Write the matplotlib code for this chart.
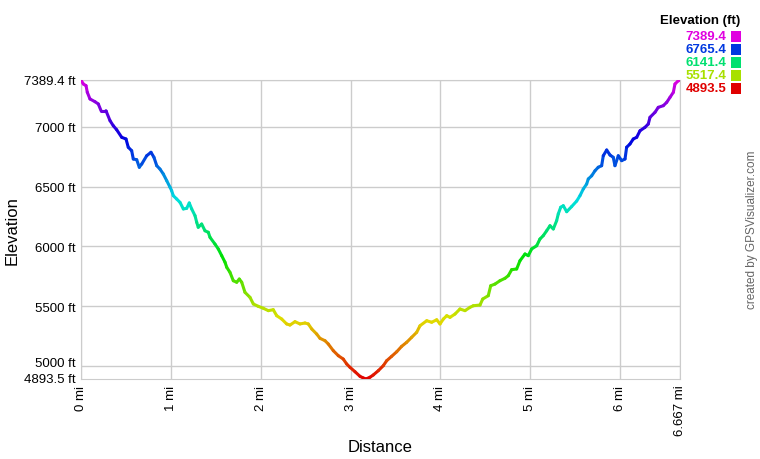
import numpy as np
import matplotlib
matplotlib.use("Agg")
import matplotlib.pyplot as plt
from matplotlib.collections import LineCollection
from matplotlib.colors import hsv_to_rgb

plt.rcParams['font.family'] = ['Liberation Sans', 'DejaVu Sans']

# distance along the track (mi) and elevation (ft)
dist = [0.000, 0.026, 0.056, 0.070, 0.100, 0.156, 0.193, 0.223, 0.278, 0.323,
        0.359, 0.397, 0.453, 0.501, 0.526, 0.564, 0.582, 0.620, 0.649, 0.676,
        0.731, 0.779, 0.812, 0.843, 0.879, 0.916, 0.954, 0.991, 1.009, 1.027,
        1.065, 1.102, 1.139, 1.176, 1.205, 1.232, 1.269, 1.288, 1.305, 1.343,
        1.380, 1.417, 1.436, 1.491, 1.528, 1.566, 1.603, 1.622, 1.658, 1.695,
        1.733, 1.762, 1.789, 1.825, 1.881, 1.918, 1.973, 2.029, 2.085, 2.140,
        2.178, 2.234, 2.289, 2.326, 2.382, 2.437, 2.493, 2.530, 2.568, 2.623,
        2.660, 2.716, 2.752, 2.808, 2.864, 2.919, 2.957, 2.994, 3.050, 3.105,
        3.142, 3.172, 3.216, 3.253, 3.309, 3.365, 3.402, 3.458, 3.514, 3.569,
        3.625, 3.681, 3.736, 3.773, 3.848, 3.903, 3.959, 3.996, 4.033, 4.071,
        4.107, 4.163, 4.218, 4.274, 4.330, 4.366, 4.441, 4.471, 4.533, 4.560,
        4.608, 4.663, 4.719, 4.756, 4.793, 4.849, 4.886, 4.942, 4.978, 5.016,
        5.072, 5.108, 5.145, 5.183, 5.220, 5.257, 5.294, 5.312, 5.339, 5.368,
        5.406, 5.461, 5.517, 5.554, 5.590, 5.628, 5.646, 5.684, 5.721, 5.757,
        5.795, 5.813, 5.851, 5.888, 5.924, 5.943, 5.980, 6.018, 6.055, 6.073,
        6.110, 6.147, 6.185, 6.222, 6.277, 6.314, 6.333, 6.389, 6.425, 6.481,
        6.519, 6.556, 6.593, 6.611, 6.648, 6.667]
elev = [7389, 7356, 7342, 7287, 7231, 7208, 7189, 7133, 7133, 7050,
        7008, 6974, 6911, 6897, 6828, 6799, 6730, 6724, 6661, 6688,
        6757, 6786, 6744, 6674, 6646, 6605, 6549, 6494, 6465, 6424,
        6396, 6368, 6313, 6318, 6363, 6313, 6257, 6201, 6160, 6187,
        6131, 6118, 6076, 6020, 5979, 5923, 5868, 5826, 5784, 5714,
        5701, 5728, 5701, 5617, 5575, 5520, 5500, 5484, 5464, 5472,
        5422, 5394, 5353, 5344, 5372, 5353, 5361, 5353, 5311, 5269,
        5233, 5213, 5186, 5130, 5088, 5060, 5019, 4991, 4954, 4916,
        4902, 4894, 4908, 4927, 4963, 5005, 5046, 5083, 5121, 5166,
        5200, 5242, 5283, 5338, 5380, 5367, 5388, 5353, 5394, 5422,
        5408, 5436, 5478, 5464, 5492, 5505, 5511, 5561, 5589, 5672,
        5686, 5714, 5734, 5756, 5806, 5812, 5881, 5937, 5923, 5979,
        6006, 6062, 6090, 6131, 6173, 6146, 6215, 6271, 6327, 6340,
        6290, 6333, 6379, 6424, 6479, 6521, 6563, 6590, 6632, 6661,
        6674, 6757, 6805, 6763, 6744, 6674, 6757, 6716, 6730, 6828,
        6855, 6897, 6911, 6966, 6994, 7022, 7078, 7120, 7161, 7175,
        7203, 7245, 7287, 7356, 7383, 7389]

emin, emax = 4893.5, 7389.4
dmax = 6.667
legend_vals = [7389.4, 6765.4, 6141.4, 5517.4, 4893.5]
y_ticks = [5000, 5500, 6000, 6500, 7000, 7389.4]
y_labels = ['5000 ft', '5500 ft', '6000 ft', '6500 ft', '7000 ft', '7389.4 ft']
x_ticks = [0, 1, 2, 3, 4, 5, 6, 6.667]
x_labels = ['0 mi', '1 mi', '2 mi', '3 mi', '4 mi', '5 mi', '6 mi', '6.667 mi']


def elev_color(e):
    # hue runs red -> magenta as elevation goes min -> max
    frac = np.clip((np.asarray(e) - emin) / (emax - emin), 0, 1)
    hsv = np.stack([frac * 300 / 360, np.ones_like(frac), np.full_like(frac, 0.88)], axis=-1)
    return hsv_to_rgb(hsv)


fig = plt.figure(figsize=(7.6, 4.6), dpi=100)
ax = fig.add_axes([81 / 760, 1 - 380 / 460, (680 - 81) / 760, (380 - 81) / 460])

x = np.array(dist)
y = np.array(elev, dtype=float)
pts = np.column_stack([x, y]).reshape(-1, 1, 2)
segs = np.concatenate([pts[:-1], pts[1:]], axis=1)
lc = LineCollection(segs, colors=elev_color((y[:-1] + y[1:]) / 2), linewidths=2.2,
                    capstyle='round', joinstyle='round', zorder=3)
ax.add_collection(lc)

ax.set_xlim(0, dmax)
ax.set_ylim(emin, emax)
ax.set_yticks(y_ticks)
ax.set_yticklabels(y_labels, fontsize=9.5)
ax.set_xticks(x_ticks)
ax.set_xticklabels(x_labels, fontsize=9.5, rotation=90, va='top', ha='center')
ax.tick_params(length=0, pad=4)
ax.grid(True, color='#cccccc', linewidth=1)
ax.set_axisbelow(True)
for s in ax.spines.values():
    s.set_color('#cccccc')

# 5000 label sits a bit high, minimum label tucked just under it
lbl5000 = ax.get_yticklabels()[0]
lbl5000.set_va('baseline')
lbl5000.set_y(4967)
ax.annotate('4893.5 ft', xy=(0, emin), xycoords=('axes fraction', 'data'),
            xytext=(-4, -2), textcoords='offset points', fontsize=9.5,
            ha='right', va='baseline')

ax.set_ylabel('Elevation', fontsize=12, labelpad=3)
fig.text(380 / 760, 1 - 448 / 460, 'Distance', fontsize=12, ha='center', va='center')

# legend block, top right
fig.text(740 / 760, 1 - 21 / 460, 'Elevation (ft)', fontsize=9.5, fontweight='bold',
         ha='right', va='center')
for i, v in enumerate(legend_vals):
    yy = 1 - (37 + i * 13) / 460
    c = elev_color(v)
    fig.text(726 / 760, yy, f'{v:.1f}', fontsize=9.5, fontweight='bold', color=c,
             ha='right', va='center')
    fig.patches.append(plt.Rectangle((731 / 760, yy - 5.5 / 460), 10 / 760, 11 / 460,
                                     transform=fig.transFigure, facecolor=c,
                                     edgecolor='none'))

fig.text(752 / 760, 1 - 230 / 460, 'created by GPSVisualizer.com', fontsize=8.5,
         color='#666666', rotation=90, ha='center', va='center')

fig.savefig('out.png', dpi=100)
